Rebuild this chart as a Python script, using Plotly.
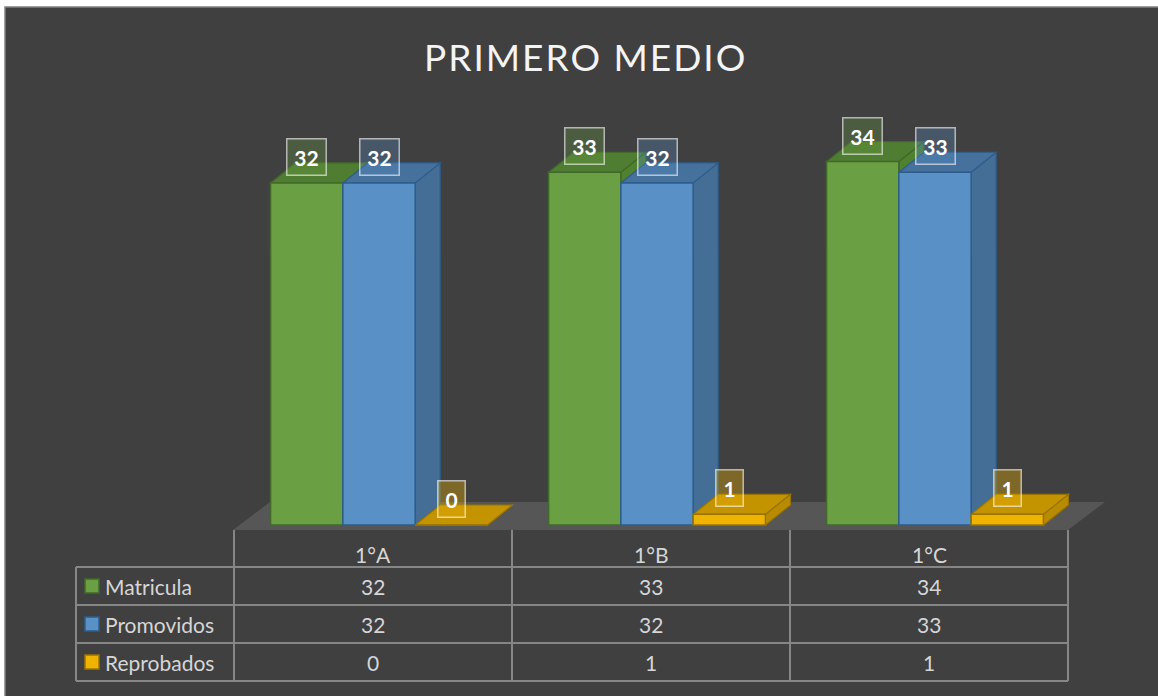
import plotly.graph_objects as go

# ---------------- data ----------------
title_text = "PRIMERO MEDIO"
categories = ["1°A", "1°B", "1°C"]
series_names = ["Matricula", "Promovidos", "Reprobados"]
matricula = [32, 33, 34]
promovidos = [32, 32, 33]
reprobados = [0, 1, 1]
series_values = [matricula, promovidos, reprobados]

# ---------------- style ----------------
W, H = 1158, 696
FONT = "Lato"
front_colors = ["#6a9f43", "#5990c6", "#f0b400"]
top_colors = ["#4f7d31", "#46719d", "#c49300"]
side_colors = ["#50812f", "#446e96", "#b98b00"]
edge_colors = ["#41692a", "#2d5d8c", "#9a7400"]
label_fills = ["rgba(106,159,67,0.30)", "rgba(89,144,198,0.30)", "rgba(240,180,0,0.35)"]

PLOT_L, PLOT_R = 240, 1074          # pixel extent of x range [-0.5, n-0.5]
Y0_PX, PPU = 525, 10.69             # pixel of value 0, pixels per unit
YMIN, YMAX = -1, 40
BARGAP = 0.22
n_cat = len(categories)
n_ser = len(series_names)
px_per_x = (PLOT_R - PLOT_L) / n_cat
bw = (1 - BARGAP) / n_ser
DX = 25 / px_per_x                  # depth offset (data units)
DY = 20 / PPU

y_bot_px = Y0_PX + (0 - YMIN) * PPU
y_top_px = Y0_PX - YMAX * PPU


def px(x):
    return x / W


def py(y):
    return 1 - y / H


fig = go.Figure()
xs = list(range(n_cat))
for j, (name, vals) in enumerate(zip(series_names, series_values)):
    fig.add_trace(go.Bar(
        x=xs, y=vals, name=name,
        marker=dict(color=front_colors[j], line=dict(color=edge_colors[j], width=1.5)),
        showlegend=False, hoverinfo="y+name",
    ))

shapes = []
# background panel
shapes.append(dict(type="rect", xref="paper", yref="paper", layer="below",
                   x0=px(5), x1=px(W + 5), y0=py(H + 5), y1=py(7),
                   fillcolor="#404040", line=dict(color="#808080", width=1.5)))
# floor
shapes.append(dict(type="path", xref="paper", yref="paper", layer="below",
                   path=f"M {px(233)},{py(530)} L {px(1068)},{py(530)} L {px(1105)},{py(502)} L {px(270)},{py(502)} Z",
                   fillcolor="#565656", line=dict(width=0)))


def poly(pts):
    return "M " + " L ".join(f"{a},{b}" for a, b in pts) + " Z"


for i in range(n_cat):
    for j in range(n_ser):
        v = series_values[j][i]
        c = i + (j - (n_ser - 1) / 2) * bw
        L, R = c - bw / 2, c + bw / 2
        top = [(L, v), (R, v), (R + DX, v + DY), (L + DX, v + DY)]
        side = [(R, 0), (R, v), (R + DX, v + DY), (R + DX, DY)]
        shapes.append(dict(type="path", xref="x", yref="y", layer="below", path=poly(side),
                           fillcolor=side_colors[j], line=dict(color=edge_colors[j], width=1.2)))
        shapes.append(dict(type="path", xref="x", yref="y", layer="below", path=poly(top),
                           fillcolor=top_colors[j], line=dict(color=edge_colors[j], width=1.2)))

# ---------------- data table ----------------
LINE_C = "#868686"
col_edges = [234, 512, 790, 1068]
row_lines = [567, 605, 643, 681]
TABLE_L = 76
for xe in col_edges:
    shapes.append(dict(type="line", xref="paper", yref="paper", x0=px(xe), x1=px(xe),
                       y0=py(530), y1=py(681), line=dict(color=LINE_C, width=2)))
shapes.append(dict(type="line", xref="paper", yref="paper", x0=px(TABLE_L), x1=px(TABLE_L),
                   y0=py(567), y1=py(681), line=dict(color=LINE_C, width=2)))
for yl in row_lines:
    shapes.append(dict(type="line", xref="paper", yref="paper", x0=px(TABLE_L), x1=px(col_edges[-1]),
                       y0=py(yl), y1=py(yl), line=dict(color=LINE_C, width=2)))

annotations = []
TXT_C = "#d6d6d6"
TFONT = dict(family=FONT, size=21, color=TXT_C)
col_centers = [(col_edges[k] + col_edges[k + 1]) / 2 for k in range(n_cat)]
for k, cat in enumerate(categories):
    annotations.append(dict(xref="paper", yref="paper", x=px(col_centers[k]), y=py(554),
                            xanchor="center", yanchor="middle",
                            text=cat, showarrow=False, font=TFONT))
for j, name in enumerate(series_names):
    yc = (row_lines[j] + row_lines[j + 1]) / 2
    shapes.append(dict(type="rect", xref="paper", yref="paper",
                       x0=px(85), x1=px(99), y0=py(yc + 7), y1=py(yc - 7),
                       fillcolor=front_colors[j], line=dict(color=edge_colors[j], width=1.5)))
    annotations.append(dict(xref="paper", yref="paper", x=px(103), y=py(yc), xanchor="left",
                            yanchor="middle", text=name, showarrow=False, font=TFONT))
    for k in range(n_cat):
        annotations.append(dict(xref="paper", yref="paper", x=px(col_centers[k]), y=py(yc),
                                xanchor="center", yanchor="middle",
                                text=str(series_values[j][k]), showarrow=False, font=TFONT))

# data labels
for j in range(n_ser):
    for i in range(n_cat):
        v = series_values[j][i]
        c = i + (j - (n_ser - 1) / 2) * bw
        t = str(v)
        annotations.append(dict(xref="x", yref="y", x=c, y=v, yshift=26, text=f"<b>{t}</b>",
                                xanchor="center", yanchor="middle",
                                showarrow=False, font=dict(family=FONT, size=21, color="white"),
                                bgcolor=label_fills[j], bordercolor="rgba(255,255,255,0.6)",
                                borderwidth=1.5, borderpad=0, width=12 * len(t) + 14, height=35))

# title
annotations.append(dict(xref="paper", yref="paper", x=px(585), y=py(56), xanchor="center",
                        yanchor="middle",
                        text=f'<span style="letter-spacing:2px">{title_text}</span>',
                        showarrow=False, font=dict(family=FONT, size=37, color="#f4f4f4")))

fig.update_layout(
    width=W, height=H, margin=dict(l=0, r=0, t=0, b=0),
    paper_bgcolor="white", plot_bgcolor="rgba(0,0,0,0)",
    barmode="group", bargap=BARGAP, bargroupgap=0,
    xaxis=dict(domain=[px(PLOT_L), px(PLOT_R)], range=[-0.5, n_cat - 0.5], visible=False,
               fixedrange=True),
    yaxis=dict(domain=[py(y_bot_px), py(y_top_px)], range=[YMIN, YMAX], visible=False,
               fixedrange=True),
    shapes=shapes, annotations=annotations, showlegend=False,
)

fig.write_html("out.html", config={"displayModeBar": False},
               post_script="document.body.style.margin='0px';document.body.style.overflow='hidden';")
